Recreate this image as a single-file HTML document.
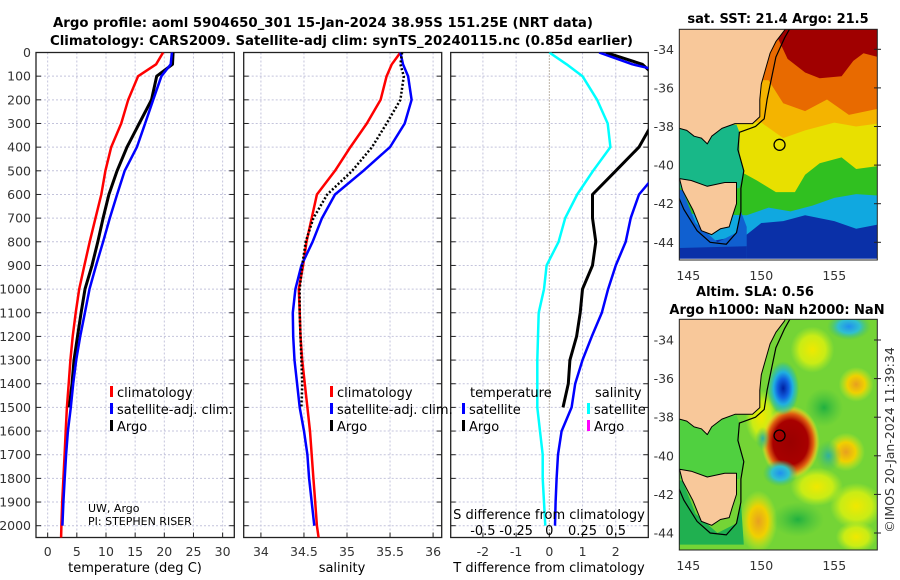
<!DOCTYPE html>
<html><head><meta charset="utf-8">
<style>
html,body{margin:0;padding:0;background:#fff;}
svg{display:block;font-family:"DejaVu Sans","Liberation Sans",sans-serif;}
.tk{font-size:12.5px;fill:#333;}
.tt{font-size:13px;font-weight:bold;fill:#000;}
.lg{font-size:13px;fill:#000;}
</style></head>
<body>
<svg id="fig" width="900" height="580" viewBox="0 0 900 580" xmlns="http://www.w3.org/2000/svg">
<defs>
<clipPath id="c1"><rect x="36" y="52.5" width="198.3" height="485"/></clipPath>
<clipPath id="c2"><rect x="243.7" y="52.5" width="198" height="485"/></clipPath>
<clipPath id="c3"><rect x="450.7" y="52.5" width="197.6" height="485"/></clipPath>
<clipPath id="cm1"><rect x="679.3" y="29.3" width="198" height="230.7"/></clipPath>
<clipPath id="cm2"><rect x="679.3" y="319.3" width="198" height="230.7"/></clipPath>
<radialGradient id="gRed"><stop offset="0" stop-color="#9a0000"/><stop offset="0.6" stop-color="#a80000"/><stop offset="0.78" stop-color="#e06010"/><stop offset="0.9" stop-color="#f0c020" stop-opacity="0.7"/><stop offset="1" stop-color="#e0f020" stop-opacity="0"/></radialGradient>
<radialGradient id="gBlue"><stop offset="0" stop-color="#0020a0"/><stop offset="0.35" stop-color="#1060e0"/><stop offset="0.6" stop-color="#20b0e0"/><stop offset="0.85" stop-color="#30c0a0" stop-opacity="0.6"/><stop offset="1" stop-color="#40c060" stop-opacity="0"/></radialGradient>
<radialGradient id="gCyan"><stop offset="0" stop-color="#2090f0"/><stop offset="0.5" stop-color="#30c0d0"/><stop offset="1" stop-color="#40c060" stop-opacity="0"/></radialGradient>
<radialGradient id="gTeal"><stop offset="0" stop-color="#30b0a0"/><stop offset="1" stop-color="#40c060" stop-opacity="0"/></radialGradient>
<radialGradient id="gYel"><stop offset="0" stop-color="#f0e800"/><stop offset="0.6" stop-color="#d8f010" stop-opacity="0.85"/><stop offset="1" stop-color="#c0f020" stop-opacity="0"/></radialGradient>
<radialGradient id="gOr"><stop offset="0" stop-color="#e8a020"/><stop offset="0.5" stop-color="#f0d000"/><stop offset="1" stop-color="#d0f020" stop-opacity="0"/></radialGradient>
<radialGradient id="gGreen"><stop offset="0" stop-color="#20b040"/><stop offset="1" stop-color="#40c040" stop-opacity="0"/></radialGradient>
</defs>
<text class="tt" x="53" y="27" textLength="540" lengthAdjust="spacingAndGlyphs">Argo profile: aoml 5904650_301 15-Jan-2024 38.95S 151.25E (NRT data)</text>
<text class="tt" x="50" y="45" textLength="583" lengthAdjust="spacingAndGlyphs">Climatology: CARS2009. Satellite-adj clim: synTS_20240115.nc (0.85d earlier)</text>
<g id="layer"></g>
</svg>
<script>
// ---- data ----
const depths = [0,50,100,200,300,400,500,600,700,800,900,1000,1100,1200,1300,1400,1500,1600,1700,1800,1900,2000,2050];
const tClim = [19.8,18.6,15.5,13.8,12.6,10.9,9.9,9.2,8.2,7.2,6.3,5.4,4.8,4.3,3.9,3.6,3.3,3.1,2.9,2.7,2.5,2.35,2.3];
const tSat = [21.3,21.1,19.5,18.1,16.7,15.3,13.2,11.9,10.65,9.5,8.3,7.17,6.38,5.58,4.9,4.38,3.97,3.47,3.16,2.92,2.69,2.52,null];
const tArgo = [21.5,21.4,18.7,17.8,15.7,13.6,11.9,10.5,9.5,8.6,7.6,6.4,5.73,5.12,4.52,4.17,3.71,null,null,null,null,null,null];
const sClim = [35.62,35.52,35.46,35.39,35.23,35.04,34.86,34.65,34.59,34.53,34.49,34.44,34.45,34.46,34.48,34.51,34.54,34.57,34.59,34.61,34.63,34.65,34.67];
const sSat = [35.62,35.65,35.71,35.75,35.67,35.50,35.19,34.86,34.71,34.60,34.47,34.40,34.37,34.375,34.39,34.42,34.45,34.50,34.54,34.56,34.59,34.62,null];
const sArgo = [35.64,35.62,35.66,35.62,35.46,35.29,35.06,34.77,34.61,34.52,34.48,34.45,34.45,34.46,34.47,34.48,34.47,null,null,null,null,null,null];
const tTicks = [0,5,10,15,20,25,30];
const sTicks = [34,34.5,35,35.5,36];
const dTTicks = [-2,-1,0,1,2];
const dSTicks = [-0.5,-0.25,0,0.25,0.5];
const dSTickLabels = ['-0.5','-0.25','0','0.25','0.5'];
const depthTicks = [0,100,200,300,400,500,600,700,800,900,1000,1100,1200,1300,1400,1500,1600,1700,1800,1900,2000];
const latTicks = [-34,-36,-38,-40,-42,-44];
const lonTicks = [145,150,155];

const NS='http://www.w3.org/2000/svg';
const L=document.getElementById('layer');
function mk(tag,attrs,parent){const e=document.createElementNS(NS,tag);for(const k in attrs)e.setAttribute(k,attrs[k]);(parent||L).appendChild(e);return e;}
const Y=d=>52.5+d*0.2366;
const panels=[
 {x0:36,x1:234.3,dom:[-2,32],clip:'c1'},
 {x0:243.7,x1:441.7,dom:[33.8,36.1],clip:'c2'},
 {x0:450.7,x1:648.3,dom:[-2.97,2.98],clip:'c3'}];
function sx(p,v){return p.x0+(v-p.dom[0])/(p.dom[1]-p.dom[0])*(p.x1-p.x0);}
const XS=v=>549.3+v*132.8;

const tickSets=[tTicks,sTicks,dTTicks];
const names=['temperature','salinity','difference'];
panels.forEach((p,i)=>{
  const g=mk('g',{});
  
  
  depthTicks.forEach(d=>{
    const gl=mk('line',{x1:p.x0,x2:p.x1,y1:Y(d),y2:Y(d),stroke:'#c4c4dc','stroke-width':1,'stroke-dasharray':'2,2'},g);
    
    
    const t1=mk('line',{x1:p.x0,x2:p.x0+5,y1:Y(d),y2:Y(d),stroke:'#222'},g);
    
    
    const t2=mk('line',{x1:p.x1-5,x2:p.x1,y1:Y(d),y2:Y(d),stroke:'#222'},g);
    
    
  });
  tickSets[i].forEach(v=>{
    const x=sx(p,v);
    const gl=mk('line',{x1:x,x2:x,y1:52.5,y2:537.5,stroke:(i==2&&v==0)?'#7a6a50':'#c4c4dc','stroke-width':1,'stroke-dasharray':(i==2&&v==0)?'1,2':'2,2'},g);
    
    
    const tk=mk('line',{x1:x,x2:x,y1:532.5,y2:537.5,stroke:'#222'},g);
    
    
    const tl=mk('text',{x:x,y:556,'text-anchor':'middle',class:'tk'},g);
    tl.textContent=String(v);
    
    
  });
  const fr=mk('rect',{x:p.x0,y:52.5,width:p.x1-p.x0,height:485,fill:'none',stroke:'#222','stroke-width':1.3},g);
  
  
});
depthTicks.forEach(d=>{
  const t=mk('text',{x:31,y:Y(d)+4.5,'text-anchor':'end',class:'tk'});
  t.textContent=String(d);
  
  
});
[['temperature (deg C)',135],['salinity',342],['T difference from climatology',549]].forEach(a=>{
  const t=mk('text',{x:a[1],y:572,'text-anchor':'middle',class:'lg',fill:'#333'});
  t.textContent=a[0];
  
  
});

function line(vals,xf,color,w,dash,clip,name){
  let d='',pen=false;
  vals.forEach((v,k)=>{ if(v===null||v===undefined){pen=false;return;} d+=(pen?'L':'M')+xf(v).toFixed(1)+','+Y(depths[k]).toFixed(1); pen=true;});
  const e=mk('path',{d:d,fill:'none',stroke:color,'stroke-width':w,'stroke-linejoin':'round','clip-path':'url(#'+clip+')'});
  if(dash)e.setAttribute('stroke-dasharray',dash);
  
  
}
const P=panels;
line(tClim,v=>sx(P[0],v),'#ff0000',2.5,null,'c1','temp-climatology-line');
line(tArgo,v=>sx(P[0],v),'#000',3,null,'c1','temp-argo-line');
line(tSat,v=>sx(P[0],v),'#0000ff',2.5,null,'c1','temp-satellite-line');
line(sClim,v=>sx(P[1],v),'#ff0000',2.5,null,'c2','sal-climatology-line');
line(sSat,v=>sx(P[1],v),'#0000ff',2.5,null,'c2','sal-satellite-line');
line(sArgo,v=>sx(P[1],v),'#000',2.5,'2,2','c2','sal-argo-line');
const dSS=sSat.map((v,k)=>v===null?null:v-sClim[k]);
const dTA=tArgo.map((v,k)=>v===null?null:v-tClim[k]);
const dTS=tSat.map((v,k)=>v===null?null:v-tClim[k]);
line(dSS,XS,'#00ffff',2.5,null,'c3','sal-diff-satellite-line');
line(dTA,v=>sx(P[2],v),'#000',3,null,'c3','temp-diff-argo-line');
line(dTS,v=>sx(P[2],v),'#0000ff',2.5,null,'c3','temp-diff-satellite-line');

function leg(x,y,color,label,name){
  const r=mk('rect',{x:x,y:y-11,width:3,height:11,fill:color});
  
  
  const t=mk('text',{x:x+7,y:y,class:'lg'});
  t.textContent=label;
  
  
}
leg(110,397,'#ff0000','climatology','legend-t-climatology');
leg(110,414,'#0000ff','satellite-adj. clim.','legend-t-satellite');
leg(110,431,'#000','Argo','legend-t-argo');
leg(330,397,'#ff0000','climatology','legend-s-climatology');
leg(330,414,'#0000ff','satellite-adj. clim.','legend-s-satellite');
leg(330,431,'#000','Argo','legend-s-argo');
leg(462,414,'#0000ff','satellite','legend-d-t-satellite');
leg(462,431,'#000','Argo','legend-d-t-argo');
leg(587,414,'#00ffff','satellite','legend-d-s-satellite');
leg(587,431,'#ff00ff','Argo','legend-d-s-argo');
[['temperature',470,'legend-temperature-heading'],['salinity',595,'legend-salinity-heading']].forEach(a=>{
  const t=mk('text',{x:a[1],y:397,class:'lg'});
  t.textContent=a[0];
  
  
});
{
  const t=mk('text',{x:549,y:519,'text-anchor':'middle',class:'lg'});
  t.textContent='S difference from climatology';
  
  
  dSTicks.forEach((v,k)=>{
    const tl=mk('text',{x:XS(v),y:535,'text-anchor':'middle',class:'lg'});
    tl.textContent=dSTickLabels[k];
    
    
  });
  const u=mk('text',{x:88,y:512,style:'font-size:11px;fill:#000'});
  u.textContent='UW, Argo';
  
  
  const u2=mk('text',{x:88,y:525,style:'font-size:11px;fill:#000'});
  u2.textContent='PI: STEPHEN RISER';
  
  
}

// ---- maps ----
const MX=lon=>688.3+(lon-145)*14.6;
function mapGroup(top,clip,name){
  const Ym=lat=>top+(-34-lat)*19.3;
  const g=mk('g',{'clip-path':'url(#'+clip+')'});
  
  
  const poly=(pts,fill,nm,stroke,sw)=>{
    const e=mk('polygon',{points:pts.map(p=>MX(p[0]).toFixed(1)+','+Ym(p[1]).toFixed(1)).join(' '),fill:fill,stroke:stroke||'none','stroke-width':sw||0,'stroke-linejoin':'round'},g);
    
    
    return e;
  };
  const ell=(lon,lat,rl,rt,fill,nm)=>{
    const e=mk('ellipse',{cx:MX(lon),cy:Ym(lat),rx:rl*14.6,ry:rt*19.3,fill:fill},g);
    
    
  };
  return {g,Ym,poly,ell};
}
function band(b){return b.concat([[158.5,-46],[144,-46]]);}
const mainland=[[143,-32],[151.9,-32],[151.6,-33],[151.0,-33.6],[150.6,-34.2],[150.3,-35],[150.0,-35.8],[149.9,-36.6],[149.9,-37.5],[149.4,-37.85],[148.2,-37.85],[147.3,-38.1],[146.6,-38.5],[146.3,-38.9],[145.9,-38.6],[145.4,-38.5],[144.9,-38.2],[144.4,-38.1],[143,-38.1]];
const tas=[[144.4,-40.7],[145.2,-40.8],[146.3,-41.1],[147.5,-40.9],[148.3,-40.9],[148.3,-42],[148.0,-42.7],[147.8,-43.2],[147.2,-43.3],[146.6,-43.6],[145.9,-43.4],[145.3,-42.3],[144.6,-41.3]];
const iso=[[152.2,-32.6],[151.6,-33.4],[151.0,-34.4],[150.7,-35.5],[150.4,-36.6],[150.2,-37.6],[149.6,-38.0],[148.5,-38.3],[148.4,-39.2],[148.8,-40.3],[148.6,-41.2],[148.6,-42.4],[148.3,-43.5],[147.6,-44.1],[146.5,-44.0],[145.6,-43.4],[144.7,-42.3],[144.3,-41.6]];
function isoPath(m,nm){
  const e=mk('polyline',{points:iso.map(p=>MX(p[0]).toFixed(1)+','+m.Ym(p[1]).toFixed(1)).join(' '),fill:'none',stroke:'#000','stroke-width':1.2},m.g);
  
  
}
// SST map
{
  const m=mapGroup(49.3,'cm1','sst-map');
  m.poly([[144,-32],[159,-32],[159,-46],[144,-46]],'#a00000','sst-warm-region');
  m.poly(band([[144,-33.5],[151,-33.2],[151.8,-34.5],[153,-35.2],[154,-35.5],[155.5,-35.4],[156.3,-34.6],[157,-34.2],[158.5,-34.5]]),'#e86a00','sst-orange-band');
  m.poly(band([[144,-35.5],[150.5,-35.6],[151.5,-36.8],[153,-37.2],[154.5,-36.6],[156,-37.4],[158.5,-37.0]]),'#f4b400','sst-amber-band');
  m.poly(band([[144,-37.5],[150,-37.8],[151.5,-38.6],[153,-38.2],[155,-37.8],[156.5,-38.0],[158.5,-37.8]]),'#e8e000','sst-yellow-band');
  m.poly(band([[144,-40],[148.5,-40.3],[149.7,-40.8],[151,-41.4],[152.3,-41.4],[153,-40.5],[154,-39.9],[155.5,-39.6],[156.5,-40.2],[158.5,-40.0]]),'#30c020','sst-green-band');
  m.poly(band([[144,-42.5],[149,-42.6],[150.5,-42.2],[152,-42.4],[153.5,-42.1],[155,-41.7],[156.5,-41.5],[158.5,-41.6]]),'#10a8e0','sst-cyan-band');
  m.poly(band([[144,-44.3],[149,-43.6],[150,-43.0],[151.5,-42.9],[153,-42.6],[155,-42.9],[156.5,-43.3],[158.5,-43.0]]),'#0a30a8','sst-cold-band');
  m.poly([[144,-38.1],[148.3,-37.9],[148.5,-38.3],[148.5,-39.5],[148.8,-40.3],[148.5,-41.2],[144,-41.2]],'#18b888','sst-bass-strait');
  m.poly([[144,-41.2],[144.6,-41.3],[145.5,-43],[147,-44.0],[148.3,-43.5],[148.6,-42.4],[149,-43.2],[149,-46],[144,-46]],'#1060d0','sst-tasman-south');
  m.poly([[144,-44.3],[149,-44.2],[149,-46],[144,-46]],'#0a30a8','sst-south-deep');
  m.poly([[144,-44.85],[159,-44.85],[159,-46],[144,-46]],'#ffffff','sst-nodata-strip');
  m.poly(mainland,'#f8c89a','sst-mainland','#000',1);
  m.poly(tas,'#f8c89a','sst-tasmania','#000',1);
  isoPath(m,'sst-isobath');
  const c=mk('circle',{cx:MX(151.25),cy:m.Ym(-38.95),r:5.5,fill:'none',stroke:'#000','stroke-width':1.3},m.g);
  
  
}
// SLA map
{
  const m=mapGroup(340,'cm2','sla-map');
  m.poly([[144,-32],[159,-32],[159,-46],[144,-46]],'#74d436','sla-background');
  m.ell(153.5,-34.5,1.5,1.2,'url(#gYel)','sla-yellow-ne');
  m.ell(156.5,-36.3,1.2,0.9,'url(#gOr)','sla-orange-e');
  m.ell(155.8,-39.8,1.3,1.0,'url(#gOr)','sla-orange-se');
  m.ell(153.8,-41.6,1.8,1.0,'url(#gYel)','sla-yellow-s');
  m.ell(149.8,-43.4,1.3,1.6,'url(#gOr)','sla-orange-sw');
  m.ell(152.5,-43.3,1.8,0.9,'url(#gGreen)','sla-green-s');
  m.ell(156.5,-42.6,1.8,1.2,'url(#gYel)','sla-yellow-far');
  m.ell(150.0,-38.0,1.1,1.4,'url(#gYel)','sla-yellow-w');
  m.ell(156.5,-44.2,1.4,0.8,'url(#gYel)','sla-yellow-se');
  m.ell(154.3,-37.5,1.3,1.0,'url(#gGreen)','sla-green-mid');
  m.ell(156,-33.3,1.5,0.7,'url(#gCyan)','sla-cyan-ne');
  m.ell(152.0,-39.3,2.0,1.9,'url(#gRed)','sla-warm-eddy');
  m.ell(151.5,-36.5,1.1,1.4,'url(#gBlue)','sla-cold-eddy');
  m.ell(151.3,-40.9,1.2,0.7,'url(#gCyan)','sla-cyan-eddy');
  m.ell(150.1,-39.1,0.5,0.6,'url(#gTeal)','sla-teal-small');
  m.ell(154.6,-40,0.9,0.8,'url(#gTeal)','sla-teal-e');
  m.poly([[144,-38.1],[148.3,-37.9],[148.5,-38.3],[148.5,-39.5],[148.8,-40.3],[148.5,-41.2],[144,-41.2]],'#50d040','sla-bass-strait');
  m.poly([[144,-41.2],[144.6,-41.3],[145.5,-43],[147,-44.0],[148.3,-43.5],[148.6,-42.4],[148.8,-44.6],[144,-44.6]],'#20b050','sla-tas-shelf');
  m.poly(mainland,'#f8c89a','sla-mainland','#000',1);
  m.poly(tas,'#f8c89a','sla-tasmania','#000',1);
  isoPath(m,'sla-isobath');
  const c=mk('circle',{cx:MX(151.25),cy:m.Ym(-38.95),r:5.5,fill:'none',stroke:'#000','stroke-width':1.3},m.g);
  
  
}
[[49.3,29.3,260,276,'sst'],[340,319.3,550,566,'sla']].forEach(a=>{
  const Ym=lat=>a[0]+(-34-lat)*19.3;
  const fr=mk('rect',{x:679.3,y:a[1],width:198,height:a[2]-a[1],fill:'none',stroke:'#222','stroke-width':1});
  
  
  latTicks.forEach(lat=>{
    const t=mk('text',{x:674,y:Ym(lat)+4.5,'text-anchor':'end',class:'tk'});
    t.textContent=String(lat);
    
    
    const tk=mk('line',{x1:874,x2:881,y1:Ym(lat),y2:Ym(lat),stroke:'#222'});
    
    
  });
  lonTicks.forEach(lon=>{
    const t=mk('text',{x:MX(lon),y:a[3]+4,'text-anchor':'middle',class:'tk'});
    t.textContent=String(lon);
    
    
  });
});
[['sat. SST: 21.4 Argo: 21.5',778,23,'sst-map-title'],['Altim. SLA: 0.56',755,296,'sla-map-title'],['Argo h1000: NaN h2000: NaN',777,314,'sla-map-subtitle']].forEach(a=>{
  const t=mk('text',{x:a[1],y:a[2],'text-anchor':'middle',class:'tt'});
  t.textContent=a[0];
  
  
});
{
  const t=mk('text',{x:0,y:0,transform:'translate(894,440) rotate(-90)','text-anchor':'middle',class:'tk'});
  t.textContent='©IMOS 20-Jan-2024 11:39:34';
  
  
}
</script>
</body></html>
